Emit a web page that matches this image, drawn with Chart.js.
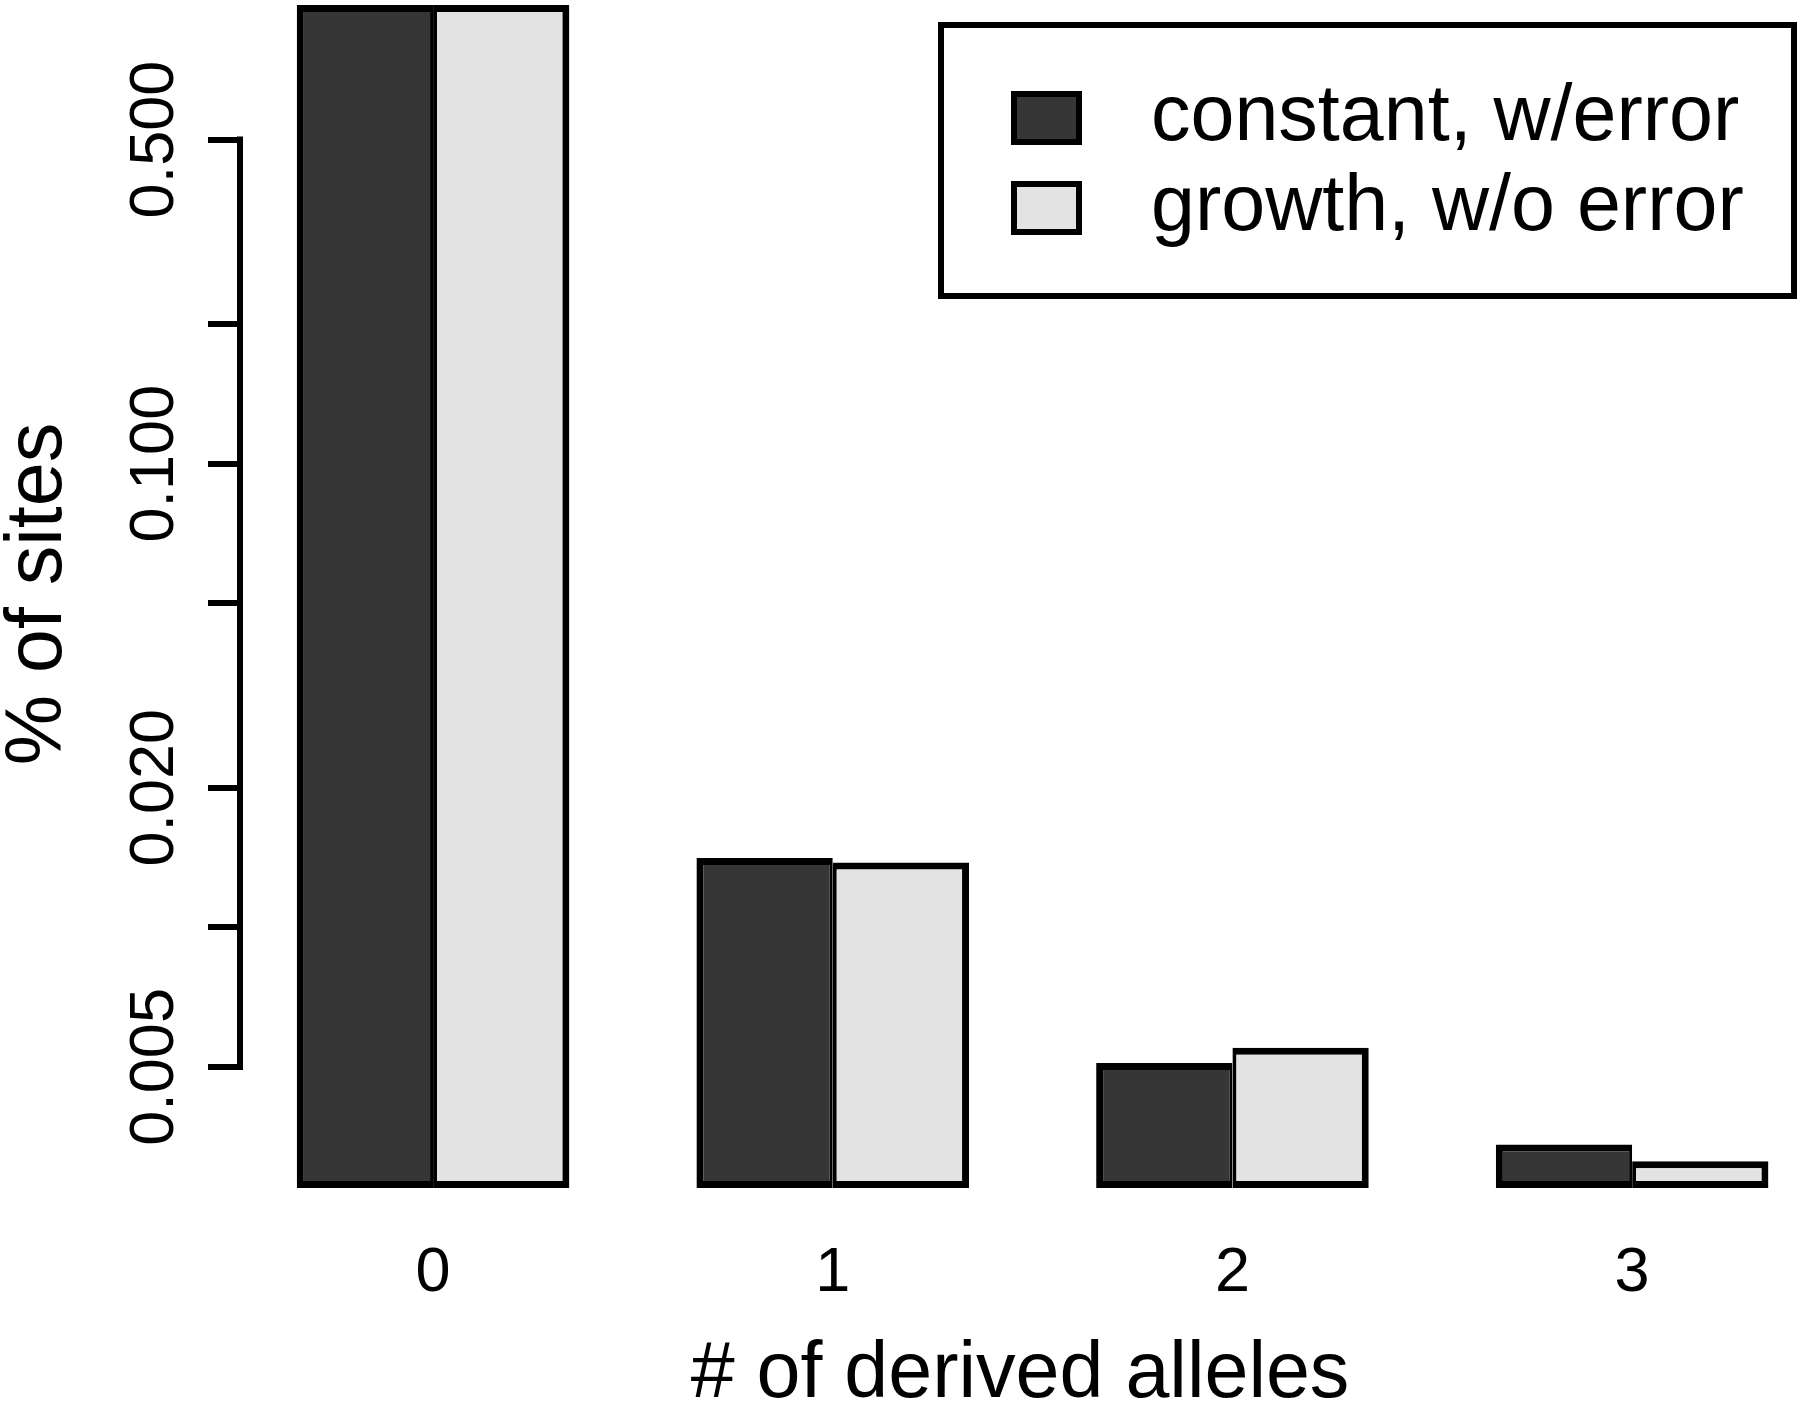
<!DOCTYPE html>
<html>
<head>
<meta charset="utf-8">
<script src="https://cdn.jsdelivr.net/npm/chart.js@4"></script>
<style>
  html, body { margin: 0; padding: 0; background: #fff; }
  canvas { display: block; }
</style>
</head>
<body>
<canvas id="sfsChart" width="1800" height="1407"></canvas>
<script>
// number of derived alleles
const categories = [0, 1, 2, 3];
// fraction of sites
const constantWithError = [0.975, 0.0141, 0.0051, 0.0034];
const growthNoError = [0.975, 0.0138, 0.0055, 0.00313];

const yTicks = [0.5, 0.2, 0.1, 0.05, 0.02, 0.01, 0.005];
const yTickLabels = { 0.5: "0.500", 0.1: "0.100", 0.02: "0.020", 0.005: "0.005" };
const yMin = 0.00274;
const yMax = 1.0;

const FONT = "'Liberation Sans', Arial, Helvetica, sans-serif";

// R style axis line: only spans first to last tick
const axisLinePlugin = {
    id: "axisLine",
    afterDraw(chart) {
        const y = chart.scales.y;
        const ctx = chart.ctx;
        const x = chart.chartArea.left;
        ctx.save();
        ctx.strokeStyle = "#000";
        ctx.lineWidth = 6;
        ctx.lineCap = "square";
        ctx.beginPath();
        ctx.moveTo(x, y.getPixelForValue(yTicks[0]));
        ctx.lineTo(x, y.getPixelForValue(yTicks[yTicks.length - 1]));
        ctx.stroke();
        ctx.restore();
    }
};

// boxed legend in the top right corner
const boxLegendPlugin = {
    id: "boxLegend",
    afterDraw(chart) {
        const ctx = chart.ctx;
        ctx.save();
        ctx.fillStyle = "#fff";
        ctx.fillRect(941, 25, 853, 271);
        ctx.strokeStyle = "#000";
        ctx.lineWidth = 6;
        ctx.strokeRect(941, 25, 853, 271);
        ctx.font = "79px " + FONT;
        ctx.textBaseline = "middle";
        ctx.textAlign = "left";
        chart.data.datasets.forEach((ds, i) => {
            const cy = 118 + i * 90;
            ctx.fillStyle = ds.backgroundColor;
            ctx.fillRect(1014, cy - 24, 65, 48);
            ctx.lineWidth = 6;
            ctx.strokeRect(1014, cy - 24, 65, 48);
            ctx.fillStyle = "#000";
            ctx.fillText(ds.label, 1151, cy);
        });
        ctx.restore();
    }
};

new Chart(document.getElementById("sfsChart").getContext("2d"), {
    type: "bar",
    data: {
        datasets: [
            {
                label: "constant, w/error",
                data: categories.map((c, i) => ({ x: c, y: constantWithError[i] })),
                backgroundColor: "#363636",
                borderColor: "#000",
                borderWidth: { top: 7, left: 7, bottom: 7, right: 3 },
                borderSkipped: false
            },
            {
                label: "growth, w/o error",
                data: categories.map((c, i) => ({ x: c, y: growthNoError[i] })),
                backgroundColor: "#e3e3e3",
                borderColor: "#000",
                borderWidth: { top: 7, left: 4, bottom: 7, right: 7 },
                borderSkipped: false
            }
        ]
    },
    options: {
        responsive: false,
        animation: false,
        layout: { padding: 0 },
        categoryPercentage: 0.682,
        barPercentage: 1.0,
        plugins: {
            legend: { display: false },
            tooltip: { enabled: false }
        },
        scales: {
            x: {
                type: "linear",
                offset: false,
                min: -0.483,
                max: 3.42,
                afterBuildTicks: (scale) => { scale.ticks = categories.map(v => ({ value: v })); },
                afterFit: (scale) => { scale.height = 219; scale.paddingLeft = 0; scale.paddingRight = 0; },
                grid: { display: false },
                border: { display: false },
                ticks: {
                    color: "#000",
                    padding: 40,
                    autoSkip: false,
                    maxRotation: 0,
                    font: { family: FONT, size: 63 },
                    callback: (v) => String(v)
                },
                title: {
                    display: true,
                    text: "# of derived alleles",
                    color: "#000",
                    padding: 0,
                    font: { family: FONT, size: 79, lineHeight: 0.8 }
                }
            },
            y: {
                type: "logarithmic",
                min: yMin,
                max: yMax,
                afterBuildTicks: (scale) => { scale.ticks = yTicks.map(v => ({ value: v })); },
                afterFit: (scale) => { scale.width = 240; scale.paddingTop = 0; scale.paddingBottom = 0; },
                border: { display: false },
                grid: {
                    display: true,
                    drawOnChartArea: false,
                    drawTicks: true,
                    tickLength: 32,
                    lineWidth: 6,
                    color: "#000"
                },
                ticks: {
                    color: "#000",
                    autoSkip: false,
                    minRotation: 90,
                    maxRotation: 90,
                    crossAlign: "center",
                    padding: -26,
                    font: { family: FONT, size: 63 },
                    callback: (v) => yTickLabels[v] || ""
                },
                title: {
                    display: true,
                    text: "% of sites",
                    color: "#000",
                    padding: 0,
                    font: { family: FONT, size: 79, lineHeight: 1.0 }
                }
            }
        }
    },
    plugins: [axisLinePlugin, boxLegendPlugin]
});
</script>
</body>
</html>
